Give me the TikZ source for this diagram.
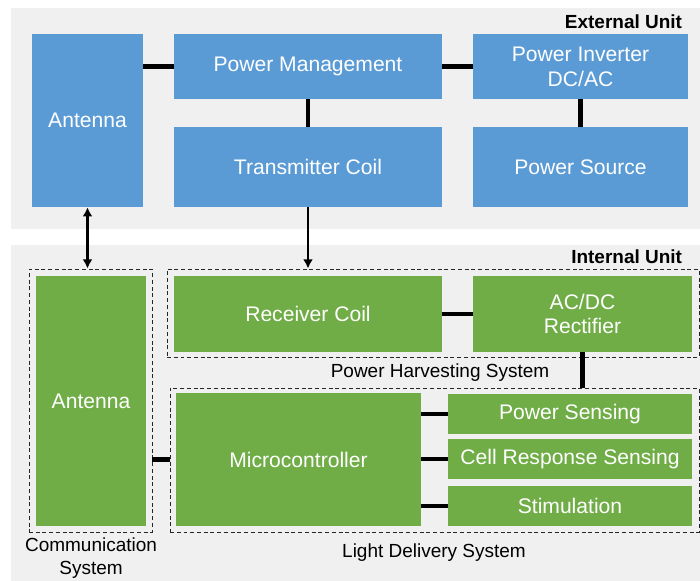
\documentclass[tikz,border=0pt]{standalone}
\usepackage{fontspec}
\setmainfont{Liberation Sans}
\usetikzlibrary{arrows.meta}
\definecolor{panelgray}{HTML}{F0F0F0}
\definecolor{extblue}{HTML}{5B9BD5}
\definecolor{intgreen}{HTML}{70AD47}
\tikzset{
  boxsize/.style 2 args={minimum width=#1*0.025cm, minimum height=#2*0.025cm},
  unitbox/.style={fill=#1, text=white, inner sep=0pt, align=center,
    font=\fontsize{15}{17.7}\selectfont},
  sysbox/.style={draw=black!85, dash pattern=on 2.8pt off 2pt, line width=0.7pt, inner sep=0pt},
  syslabel/.style={align=center, font=\fontsize{13.5}{16.3}\selectfont},
  unitlabel/.style={anchor=east, font=\fontsize{13.5}{16}\selectfont\bfseries},
  link/.style={line width=3.2pt},
  feed/.style={line width=2pt, >={Latex[length=6.5pt,width=7pt]}},
}
\begin{document}
\begin{tikzpicture}[x=0.025cm, y=-0.025cm]
    \useasboundingbox (0,0) rectangle (700,581);
    \fill[panelgray] (11,8) rectangle (700,229);
    \fill[panelgray] (11,245) rectangle (700,581);

    \node[unitlabel] (extlabel) at (687,22) {External Unit};
    \node[unitlabel] (intlabel) at (687,257) {Internal Unit};

    \node[unitbox=extblue, boxsize={111}{173}] (extant) at (87.5,120.5) {Antenna};
    \node[unitbox=extblue, boxsize={268}{65}] (pwrmgmt) at (308,66.5) {Power Management};
    \node[unitbox=extblue, boxsize={268}{80}] (txcoil) at (308,167) {Transmitter Coil};
    \node[unitbox=extblue, boxsize={215}{65}] (inverter) at (580.5,66.5) {Power Inverter\\DC/AC};
    \node[unitbox=extblue, boxsize={215}{80}] (source) at (580.5,167) {Power Source};

    \node[sysbox, boxsize={123}{263}] (commsys) at (90.5,400.5) {};
    \node[sysbox, boxsize={532}{88}] (harvsys) at (433,313) {};
    \node[sysbox, boxsize={529}{144}] (lightsys) at (434.5,460) {};

    \node[unitbox=intgreen, boxsize={110}{250}] (intant) at (91,401) {Antenna};
    \node[unitbox=intgreen, boxsize={268}{76}] (rxcoil) at (308,314) {Receiver Coil};
    \node[unitbox=intgreen, boxsize={219}{76}] (rectifier) at (582.5,314) {AC/DC\\Rectifier};
    \node[unitbox=intgreen, boxsize={245}{133}] (mcu) at (298.5,459.5) {Microcontroller};
    \node[unitbox=intgreen, boxsize={244}{40}] (pwrsense) at (570,414) {Power Sensing};
    \node[unitbox=intgreen, boxsize={244}{40}] (cellsense) at (570,459) {Cell Response Sensing};
    \node[unitbox=intgreen, boxsize={244}{40}] (stim) at (570,506) {Stimulation};

    \node[syslabel] (harvlabel) at (440,373) {Power Harvesting System};
    \node[syslabel] (lightlabel) at (434,553) {Light Delivery System};
    \node[syslabel] (commlabel) at (91,558) {Communication\\System};

    \draw[link] (pwrmgmt.west) -- (pwrmgmt.west -| extant.east);
    \draw[link] (pwrmgmt.east) -- (inverter.west);
    \draw[link] (pwrmgmt.south) -- (txcoil.north);
    \draw[link] (inverter.south) -- (source.north);
    \draw[link] (rxcoil.east) -- (rectifier.west);
    \draw[link] (rectifier.south) -- (rectifier.south |- lightsys.north);
    \draw[link] (lightsys.west |- mcu.west) -- (commsys.east |- mcu.west);
    \draw[link] (pwrsense.west -| mcu.east) -- (pwrsense.west);
    \draw[link] (cellsense.west -| mcu.east) -- (cellsense.west);
    \draw[link] (stim.west -| mcu.east) -- (stim.west);

    \draw[feed, <->] (extant.south) -- (extant.south |- commsys.north);
    \draw[feed, ->] (txcoil.south) -- (txcoil.south |- harvsys.north);
\end{tikzpicture}
\end{document}
